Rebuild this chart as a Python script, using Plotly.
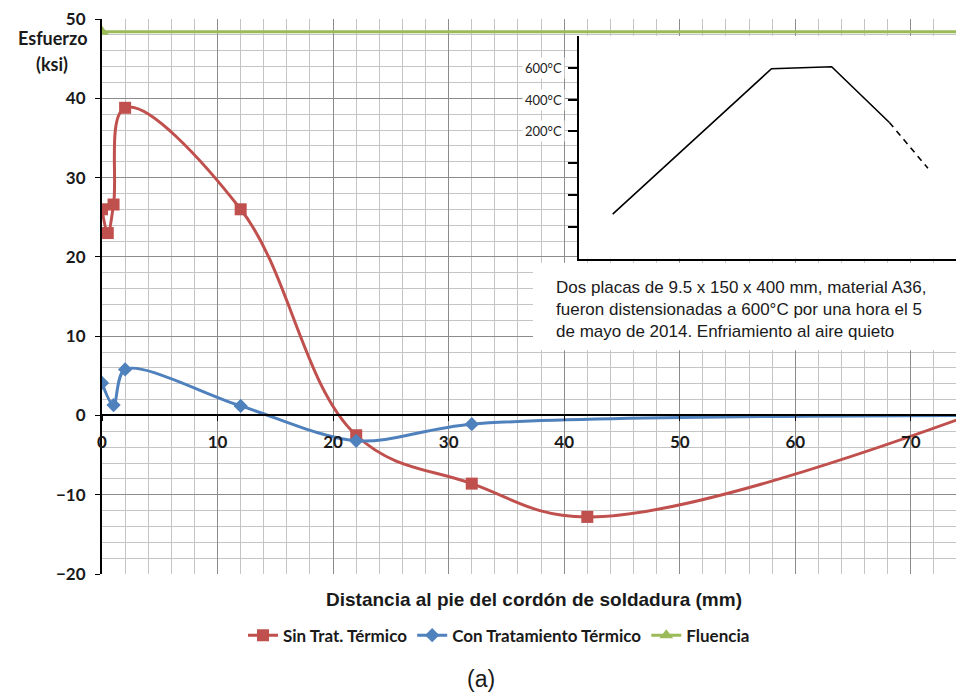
import plotly.graph_objects as go

# Datos
dist_sin = [0, 0.5, 1, 2, 12, 22, 32, 42, 74.5]
esf_sin = [26, 23, 26.6, 38.8, 26, -2.5, -8.6, -12.8, -0.3]
dist_con = [0, 1, 2, 12, 22, 32, 74.5]
esf_con = [4.1, 1.3, 5.8, 1.2, -3.2, -1.1, 0]
dist_flu = [0, 80]
esf_flu = [48.4, 48.4]

# Recuadro: ciclo termico (esquematico)
ciclo_t = [1.4, 8.0, 10.5, 12.9]
ciclo_nivel = [1.4, 5.97, 6.03, 4.28]
enfr_t = [12.9, 14.5]
enfr_nivel = [4.28, 2.84]
niveles = [1, 2, 3, 4, 5, 6]
etiquetas_temp = {6: '600°C', 5: '400°C', 4: '200°C'}

RED = '#C0504D'
BLUE = '#4F81BD'
GREEN = '#9BBB59'
TXT = '#1a1a1a'

fig = go.Figure()
fig.add_trace(go.Scatter(x=dist_sin, y=esf_sin, mode='lines+markers', name='Sin Trat. Térmico',
                         line=dict(color=RED, width=3, shape='spline', smoothing=1.1),
                         marker=dict(symbol='square', size=12, color=RED)))
fig.add_trace(go.Scatter(x=dist_con, y=esf_con, mode='lines+markers', name='Con Tratamiento Térmico',
                         line=dict(color=BLUE, width=3, shape='spline', smoothing=0.9),
                         marker=dict(symbol='diamond', size=11, color=BLUE)))
fig.add_trace(go.Scatter(x=dist_flu, y=esf_flu, mode='lines+markers', name='Fluencia',
                         line=dict(color=GREEN, width=3),
                         marker=dict(symbol='triangle-up', size=12, color=GREEN)))

# inset
fig.add_trace(go.Scatter(x=ciclo_t, y=ciclo_nivel, mode='lines', xaxis='x2', yaxis='y2',
                         line=dict(color='black', width=1.6), showlegend=False))
fig.add_trace(go.Scatter(x=enfr_t, y=enfr_nivel, mode='lines', xaxis='x2', yaxis='y2',
                         line=dict(color='black', width=1.6, dash='6px,5px'), showlegend=False))

# la pagina deja 8px de margen arriba/izquierda
W, H = 956, 690
L, T = 94, 8
B = H - (574 - 8)


def px(x):
    return (x - 102) / 862


def py(y):
    return (574 - y) / 558


BOLD16 = dict(family='Lato', weight='bold', size=17, color=TXT)

fig.update_layout(
    width=W, height=H,
    margin=dict(l=L, r=0, t=T, b=B),
    paper_bgcolor='white', plot_bgcolor='white',
    font=dict(family='Lato', color=TXT),
    xaxis=dict(range=[0, 74.6], dtick=10, tick0=0, showgrid=True, gridcolor='#8c8c8c', gridwidth=1,
               minor=dict(dtick=2, showgrid=True, gridcolor='#c4c4c4', gridwidth=1),
               anchor='free', position=py(414), showline=True, linecolor='black', linewidth=2,
               ticks='outside', ticklen=5, tickcolor='black', zeroline=False,
               ticklabelstandoff=7, tickfont=BOLD16, ticklabeloverflow='allow'),
    yaxis=dict(range=[-20, 50], dtick=10, showgrid=True, gridcolor='#8c8c8c', gridwidth=1,
               minor=dict(dtick=2, showgrid=True, gridcolor='#c4c4c4', gridwidth=1),
               showline=True, linecolor='black', linewidth=2, zeroline=False,
               ticks='outside', ticklen=5, tickcolor='black', ticklabelstandoff=6,
               tickfont=BOLD16, ticklabeloverflow='allow'),
    xaxis2=dict(domain=[px(579), 1], anchor='y2', range=[0, 16], showgrid=False, zeroline=False,
                showline=True, linecolor='black', linewidth=2, showticklabels=False),
    yaxis2=dict(domain=[py(257), py(33)], anchor='x2', range=[0, 7], showgrid=False, zeroline=False,
                showline=True, linecolor='black', linewidth=2, tickvals=niveles, showticklabels=False,
                ticks='outside', ticklen=9, tickwidth=1.5, tickcolor='black'),
    legend=dict(orientation='h', x=px(499), xanchor='center', y=py(636), yanchor='middle',
                font=dict(family='Lato', weight='bold', size=17, color=TXT), itemwidth=30,
                bgcolor='rgba(0,0,0,0)'),
    showlegend=True,
)

anns = [
    dict(text='Esfuerzo', x=px(53), y=py(35), font=dict(family='Lato', weight='bold', size=18)),
    dict(text='(ksi)', x=px(52), y=py(61), font=dict(family='Lato', weight='bold', size=18)),
    dict(text='Distancia al pie del cordón de soldadura (mm)', x=px(534), y=py(600),
         font=dict(family='Liberation Sans', size=19, weight='bold')),
    dict(text='(a)', x=px(481), y=py(680), font=dict(family='Liberation Sans', size=23)),
]
for a in anns:
    fig.add_annotation(xref='paper', yref='paper', showarrow=False, xanchor='center', yanchor='middle',
                       font_color=TXT, **a)

for nivel, txt in etiquetas_temp.items():
    fig.add_annotation(xref='paper', yref='y2', x=px(565), y=nivel, text=txt, showarrow=False,
                       xanchor='right', yanchor='middle', bgcolor='white', borderpad=2,
                       font=dict(family='Lato', size=13, color='#222'))

# recuadro de texto
fig.add_shape(type='rect', xref='paper', yref='paper', x0=px(533), x1=1, y0=py(349), y1=py(261),
              fillcolor='white', line=dict(width=0), layer='above')
fig.add_annotation(xref='paper', yref='paper', x=px(554), y=py(308), xanchor='left', yanchor='middle',
                   align='left', showarrow=False,
                   text='Dos placas de 9.5 x 150 x 400 mm, material A36,<br>'
                        'fueron distensionadas a 600°C por una hora el 5<br>'
                        'de mayo de 2014. Enfriamiento al aire quieto',
                   font=dict(family='Liberation Sans', size=17, color=TXT))

fig.write_html('out.html')
